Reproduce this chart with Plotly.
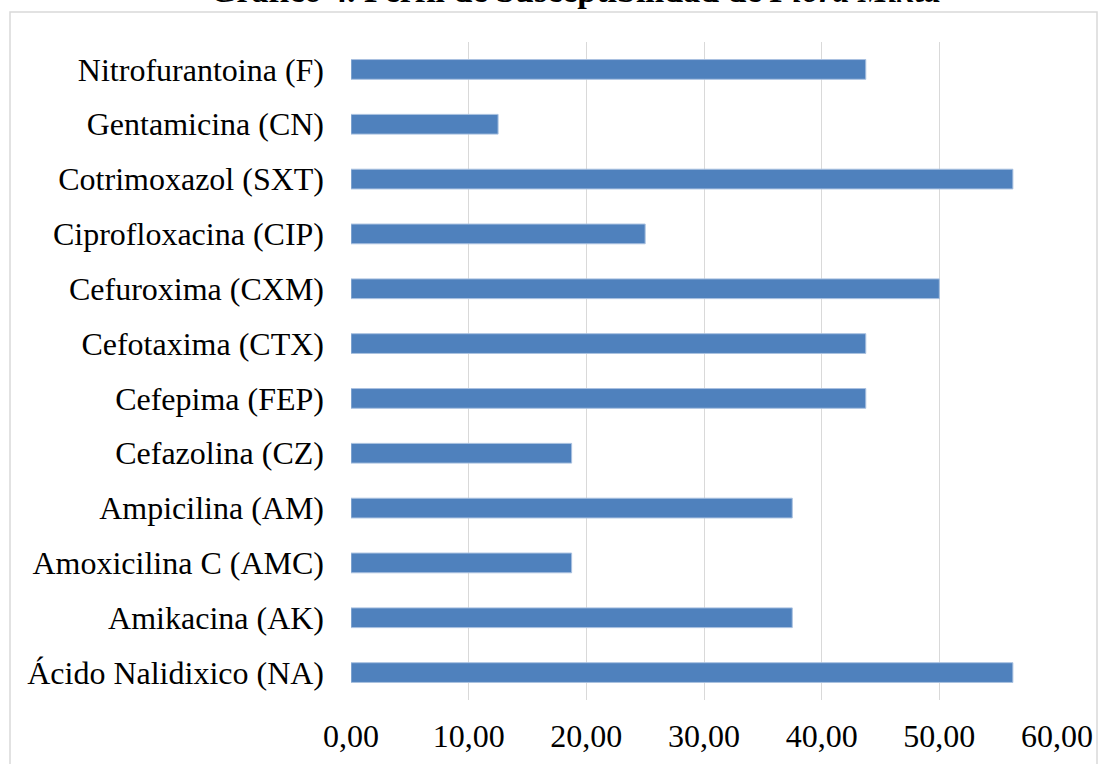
import plotly.graph_objects as go

categories = [
    "Ácido Nalidixico (NA)",
    "Amikacina (AK)",
    "Amoxicilina C (AMC)",
    "Ampicilina (AM)",
    "Cefazolina (CZ)",
    "Cefepima (FEP)",
    "Cefotaxima (CTX)",
    "Cefuroxima (CXM)",
    "Ciprofloxacina (CIP)",
    "Cotrimoxazol (SXT)",
    "Gentamicina (CN)",
    "Nitrofurantoina (F)",
]
values = [56.25, 37.5, 18.75, 37.5, 18.75, 43.75, 43.75, 50.0, 25.0, 56.25, 12.5, 43.75]
x_ticks = [0, 10, 20, 30, 40, 50, 60]

W, H = 1108, 764
ML, MR, MT, MB = 351, 51, 42, 64
pw, ph = W - ML - MR, H - MT - MB

def px2paper_x(px):
    return (px - ML) / pw

def px2paper_y(py):
    return (H - MB - py) / ph

font_family = "Liberation Serif, Times New Roman, serif"

fig = go.Figure(go.Bar(
    y=categories,
    x=values,
    orientation="h",
    width=0.36,
    marker=dict(color="#4f81bd", line=dict(color="#a9c1e0", width=1)),
))

fig.update_layout(
    width=W, height=H,
    margin=dict(l=ML, r=MR, t=MT, b=MB, autoexpand=False),
    paper_bgcolor="white",
    plot_bgcolor="white",
    separators=",.",
    showlegend=False,
    xaxis=dict(
        range=[0, 60],
        tickvals=x_ticks,
        tickformat=".2f",
        automargin=False,
        showgrid=True, gridcolor="#d9d9d9", gridwidth=1,
        zeroline=False, showline=False,
        ticks="", ticklabelstandoff=14,
        tickfont=dict(family=font_family, size=32, color="black"),
    ),
    yaxis=dict(
        categoryorder="array", categoryarray=categories,
        automargin=False,
        showgrid=False, zeroline=False, showline=False,
        ticks="", ticklabelstandoff=26,
        tickfont=dict(family=font_family, size=32, color="black"),
    ),
    annotations=[dict(
        text="<b>Gráfico 4. Perfil de Susceptibilidad de <i>Flora Mixta</i></b>",
        xref="paper", yref="paper",
        x=px2paper_x(575), y=px2paper_y(-10),
        xanchor="center", yanchor="middle",
        showarrow=False,
        font=dict(family=font_family, size=34, color="black"),
    )],
    shapes=[dict(
        type="rect", xref="paper", yref="paper",
        x0=px2paper_x(10), x1=px2paper_x(1097),
        y0=px2paper_y(780), y1=px2paper_y(12),
        line=dict(color="#d9d9d9", width=1.5),
        fillcolor="rgba(0,0,0,0)", layer="below",
    )],
)

fig.write_html("out.html")
